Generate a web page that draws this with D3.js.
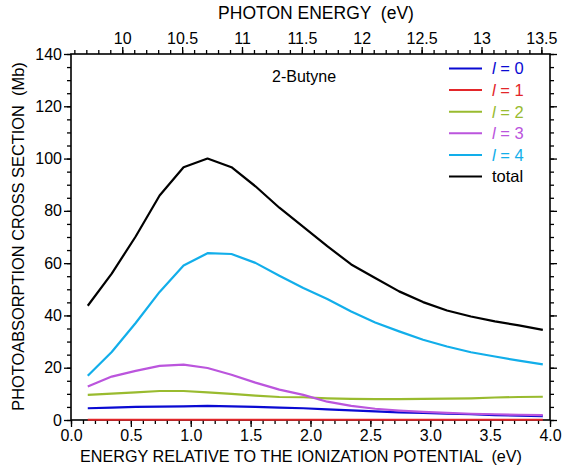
<!DOCTYPE html>
<html><head><meta charset="utf-8">
<script src="https://cdn.jsdelivr.net/npm/d3@7/dist/d3.min.js"></script>
<style>body{margin:0;background:#fff}svg{display:block}text{font-family:"Liberation Sans",Arial,sans-serif;white-space:pre}</style>
</head><body><svg id="c" width="562" height="472"></svg>
<script>
const energy = [0.14,0.34,0.54,0.74,0.94,1.14,1.34,1.54,1.74,1.94,2.14,2.34,2.54,2.74,2.94,3.14,3.34,3.54,3.74,3.94];
const l0 = [4.5,4.7,5.0,5.1,5.2,5.4,5.2,5.0,4.7,4.5,4.1,3.7,3.3,2.9,2.7,2.4,2.2,1.9,1.7,1.5];
const l1 = [0.1,0.1,0.1,0.1,0.1,0.1,0.1,0.1,0.1,0.1,0.1,0.1,0.1,0.1,0.1,0.1,0.1,0.1,0.1,0.1];
const l2 = [9.6,10.1,10.6,11.1,11.1,10.6,10.0,9.3,8.8,8.7,8.3,8.1,8.0,8.0,8.1,8.2,8.3,8.6,8.8,8.9];
const l3 = [12.8,16.6,18.8,20.7,21.2,19.9,17.3,14.3,11.6,9.6,7.0,5.4,4.3,3.6,3.1,2.7,2.4,2.2,2.0,1.9];
const l4 = [16.9,26.0,37.1,49.0,59.1,63.8,63.5,60.1,55.2,50.5,46.3,41.5,37.3,33.9,30.7,28.1,25.9,24.3,22.7,21.3];
const total = [43.7,56.0,70.2,85.9,96.7,100.0,96.7,89.4,81.2,73.9,66.5,59.5,54.3,49.2,45.1,41.9,39.6,37.7,36.2,34.5];
const seriesNames = ["0","1","2","3","4","total"];
const seriesColors = ["#0a0ad2","#e3262a","#99bb2f","#bb55dd","#12aeea","#000000"];
const yTicks = [0,20,40,60,80,100,120,140];
const xTicks = [0.0,0.5,1.0,1.5,2.0,2.5,3.0,3.5,4.0];
const topTicks = [10,10.5,11,11.5,12,12.5,13,13.5];
const topDomain = [9.572,13.572];

const svg = d3.select("#c");
const L=71,R=550,T=54,B=420;
const x = d3.scaleLinear().domain([0,4]).range([L,R]);
const xt = d3.scaleLinear().domain(topDomain).range([L,R]);
const y = d3.scaleLinear().domain([0,140]).range([B,T]);
const fs = 16;

function drawAxis(g, axis){ g.call(axis); g.select(".domain").remove(); g.selectAll("line").attr("stroke","#000").attr("stroke-width",1.3); g.selectAll("text").attr("font-size",fs).attr("font-family","Liberation Sans, Arial, sans-serif").attr("fill","#000"); }

const xMinor = d3.range(0,4.0001,0.1);
const yMinor = d3.range(0,140.001,5);
const tMinor = d3.range(9.6,13.5001,0.1);

drawAxis(svg.append("g").attr("transform",`translate(0,${B})`), d3.axisBottom(x).tickValues(xMinor).tickSize(4).tickFormat(""));
drawAxis(svg.append("g").attr("transform",`translate(0,${B})`), d3.axisBottom(x).tickValues(xTicks).tickSize(7).tickPadding(3).tickFormat(d3.format(".1f")));
drawAxis(svg.append("g").attr("transform",`translate(0,${T})`), d3.axisTop(xt).tickValues(tMinor).tickSize(4).tickFormat(""));
drawAxis(svg.append("g").attr("transform",`translate(0,${T})`), d3.axisTop(xt).tickValues(topTicks).tickSize(7).tickPadding(3).tickFormat(d=>String(d)));
drawAxis(svg.append("g").attr("transform",`translate(${L},0)`), d3.axisLeft(y).tickValues(yMinor).tickSize(4).tickFormat(""));
drawAxis(svg.append("g").attr("transform",`translate(${L},0)`), d3.axisLeft(y).tickValues(yTicks).tickSize(7).tickPadding(2).tickFormat(d3.format("d")));
drawAxis(svg.append("g").attr("transform",`translate(${R},0)`), d3.axisRight(y).tickValues(yMinor).tickSize(4).tickFormat(""));
drawAxis(svg.append("g").attr("transform",`translate(${R},0)`), d3.axisRight(y).tickValues(yTicks).tickSize(7).tickFormat(""));

svg.append("rect").attr("x",L).attr("y",T).attr("width",R-L).attr("height",B-T).attr("fill","none").attr("stroke","#000").attr("stroke-width",1.6);

const data = [l0,l1,l2,l3,l4,total];
const line = d3.line().x((d,i)=>x(energy[i])).y(d=>y(d));
data.forEach((s,k)=>{
  svg.append("path").datum(s).attr("d",line).attr("fill","none").attr("stroke",seriesColors[k]).attr("stroke-width",2.2).attr("stroke-linejoin","round");
});

const lg = svg.append("g");
seriesNames.forEach((n,i)=>{
  const yy = 68.5 + i*21.6;
  lg.append("line").attr("x1",449).attr("x2",482).attr("y1",yy).attr("y2",yy).attr("stroke",seriesColors[i]).attr("stroke-width",2);
  const t = lg.append("text").attr("x",492).attr("y",yy+5.8).attr("font-size",16.5).attr("fill",seriesColors[i]);
  if(n==="total"){ t.text("total"); }
  else { t.append("tspan").attr("font-style","italic").text("l"); t.append("tspan").text(" = "+n); }
});

svg.append("text").attr("x",272).attr("y",82).attr("font-size",16).text("2-Butyne");

svg.append("text").attr("x",316).attr("y",19).attr("text-anchor","middle").attr("font-size",17.5).text("PHOTON ENERGY  (eV)");
svg.append("text").attr("x",301).attr("y",462).attr("text-anchor","middle").attr("font-size",16.2).text("ENERGY RELATIVE TO THE IONIZATION POTENTIAL  (eV)");
svg.append("text").attr("transform",`translate(24,236.5) rotate(-90)`).attr("text-anchor","middle").attr("font-size",16.4).text("PHOTOABSORPTION CROSS SECTION  (Mb)");
</script></body></html>
